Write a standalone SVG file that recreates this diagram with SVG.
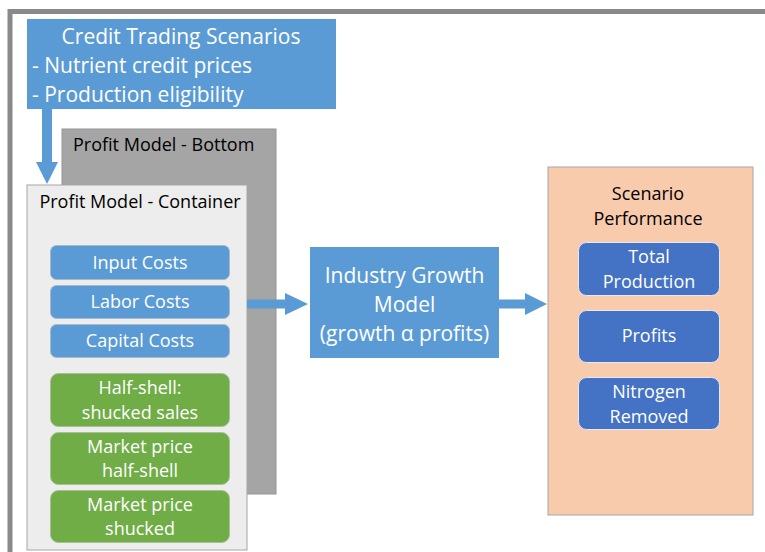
<svg xmlns="http://www.w3.org/2000/svg" width="765" height="552" viewBox="0 0 765 552">
  <defs>
    <style>
      text { font-family: "Open Sans", "Noto Sans", "Liberation Sans", sans-serif; text-anchor: middle; }
      .w { fill: #ffffff; }
      .k { fill: #000000; }
      .big { font-size: 21px; }
      .mid { font-size: 18px; }
      .blue { fill: #5B9BD5; }
      .item-blue { fill: #5B9BD5; stroke: #A6B8CC; stroke-width: 1; }
      .item-green { fill: #70AD47; stroke: #A9BF9A; stroke-width: 1; }
      .item-dark { fill: #4472C4; stroke: #E6E9F2; stroke-width: 1; }
      .conn { fill: #5B9BD5; }
    </style>
  </defs>

  <rect width="765" height="552" fill="#ffffff"/>

  <!-- outer frame -->
  <rect id="frame" x="10" y="11.5" width="780" height="560" fill="none" stroke="#898989" stroke-width="5"/>

  <!-- credit trading scenarios -->
  <g id="credit-trading">
    <rect x="27" y="19" width="309" height="90" class="blue"/>
    <text x="181" y="44" class="w big">Credit Trading Scenarios</text>
    <text x="32" y="73" class="w big" style="text-anchor:start">- Nutrient credit prices</text>
    <text x="32" y="102" class="w big" style="text-anchor:start">- Production eligibility</text>
  </g>

  <!-- profit model bottom layer -->
  <g id="profit-bottom">
    <rect x="62" y="129" width="214" height="365" fill="#A5A5A5" stroke="#959595" stroke-width="1"/>
    <text x="73" y="151" class="k mid" style="text-anchor:start">Profit Model - Bottom</text>
  </g>

  <!-- profit model container -->
  <g id="profit-container">
    <rect x="27" y="185" width="220" height="365" fill="#EDEDED" stroke="#A5A5A5" stroke-width="1"/>
    <text x="140" y="208" class="k mid">Profit Model - Container</text>
  </g>

  <g id="input-costs">
    <rect x="50.5" y="245.5" width="179" height="34" rx="6" class="item-blue"/>
    <text x="140" y="269" class="w mid">Input Costs</text>
  </g>
  <g id="labor-costs">
    <rect x="50.5" y="285.5" width="179" height="33" rx="6" class="item-blue"/>
    <text x="140" y="308" class="w mid">Labor Costs</text>
  </g>
  <g id="capital-costs">
    <rect x="50.5" y="324.5" width="179" height="33" rx="6" class="item-blue"/>
    <text x="140" y="347" class="w mid">Capital Costs</text>
  </g>
  <g id="half-shell-sales">
    <rect x="50.5" y="373.5" width="179" height="53" rx="8" class="item-green"/>
    <text x="140" y="394" class="w mid">Half-shell:</text>
    <text x="140" y="419" class="w mid">shucked sales</text>
  </g>
  <g id="price-half-shell">
    <rect x="50.5" y="432.5" width="179" height="52" rx="8" class="item-green"/>
    <text x="140" y="453" class="w mid">Market price</text>
    <text x="140" y="477" class="w mid">half-shell</text>
  </g>
  <g id="price-shucked">
    <rect x="50.5" y="490.5" width="179" height="52" rx="8" class="item-green"/>
    <text x="140" y="511" class="w mid">Market price</text>
    <text x="140" y="535" class="w mid">shucked</text>
  </g>

  <!-- industry growth model -->
  <g id="industry-growth">
    <rect x="310" y="247" width="189" height="111" class="blue"/>
    <text x="404.5" y="283" class="w big">Industry Growth</text>
    <text x="404.5" y="312" class="w big">Model</text>
    <text x="404.5" y="341" class="w big">(growth α profits)</text>
  </g>

  <!-- scenario performance -->
  <g id="scenario-performance">
    <rect x="548" y="167" width="205" height="348" fill="#F8CBAD" stroke="#A5A5A5" stroke-width="1"/>
    <text x="648" y="200" class="k mid">Scenario</text>
    <text x="648" y="225" class="k mid">Performance</text>
  </g>
  <g id="total-production">
    <rect x="578.5" y="242.5" width="141" height="53" rx="8" class="item-dark"/>
    <text x="649" y="263" class="w mid">Total</text>
    <text x="649" y="288" class="w mid">Production</text>
  </g>
  <g id="profits">
    <rect x="578.5" y="310.5" width="141" height="52" rx="8" class="item-dark"/>
    <text x="649" y="342" class="w mid">Profits</text>
  </g>
  <g id="nitrogen-removed">
    <rect x="578.5" y="377.5" width="141" height="52" rx="8" class="item-dark"/>
    <text x="649" y="398" class="w mid">Nitrogen</text>
    <text x="649" y="423" class="w mid">Removed</text>
  </g>

  <!-- connectors -->
  <g id="connectors">
    <polygon class="conn" points="42,109 52,109 52,162 58,162 47,184 36,162 42,162"/>
    <polygon class="conn" points="247,299.5 285,299.5 285,293 308,304 285,315 285,308.5 247,308.5"/>
    <polygon class="conn" points="499,299.5 525,299.5 525,293 547,304 525,315 525,308.5 499,308.5"/>
  </g>
</svg>
